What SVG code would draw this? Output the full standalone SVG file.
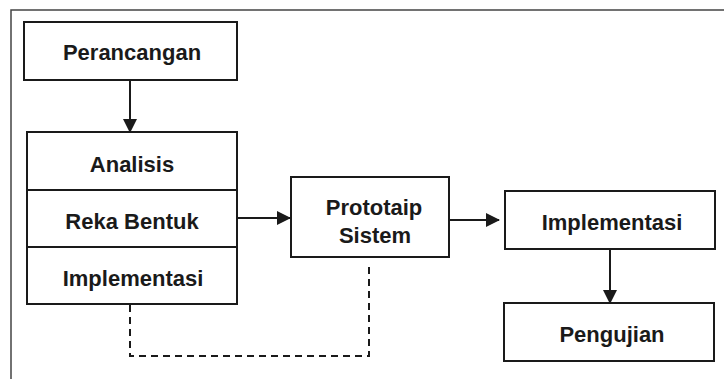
<svg xmlns="http://www.w3.org/2000/svg" width="724" height="379" viewBox="0 0 724 379">
  <style>
    .box { fill: #ffffff; stroke: #1a1a1a; stroke-width: 2; }
    .lbl { font-family: "Liberation Sans", Arial, sans-serif; font-weight: bold; font-size: 22px; fill: #1a1a1a; text-anchor: middle; }
    .conn { fill: none; stroke: #1a1a1a; stroke-width: 2; }
    .dash { fill: none; stroke: #1a1a1a; stroke-width: 2; stroke-dasharray: 7 5; }
  </style>
  <defs>
    <marker id="arrow" markerWidth="14" markerHeight="14" refX="13" refY="7" orient="auto" markerUnits="userSpaceOnUse">
      <path d="M0,0 L14,7 L0,14 Z" fill="#1a1a1a"/>
    </marker>
  </defs>
  <rect width="724" height="379" fill="#ffffff"/>
  <g id="frame">
    <path d="M11,379 L11,10 L724,10" fill="none" stroke="#444444" stroke-width="1.5"/>
  </g>
  <g id="perancangan">
    <rect class="box" x="24" y="22" width="213" height="58"/>
    <text class="lbl" x="132" y="60">Perancangan</text>
  </g>
  <g id="stack">
    <rect class="box" x="27" y="132" width="210" height="172"/>
    <line class="conn" x1="27" y1="190" x2="237" y2="190"/>
    <line class="conn" x1="27" y1="247" x2="237" y2="247"/>
    <text class="lbl" x="132" y="172">Analisis</text>
    <text class="lbl" x="132" y="229">Reka Bentuk</text>
    <text class="lbl" x="133" y="286">Implementasi</text>
  </g>
  <g id="prototaip">
    <rect class="box" x="291" y="177" width="158" height="80"/>
    <text class="lbl" x="374" y="215">Prototaip</text>
    <text class="lbl" x="375" y="243">Sistem</text>
  </g>
  <g id="implementasi">
    <rect class="box" x="505" y="191" width="210" height="58"/>
    <text class="lbl" x="612" y="230">Implementasi</text>
  </g>
  <g id="pengujian">
    <rect class="box" x="504" y="303" width="210" height="58"/>
    <text class="lbl" x="612" y="342">Pengujian</text>
  </g>
  <g id="connectors">
    <line class="conn" x1="130" y1="80" x2="130" y2="132" marker-end="url(#arrow)"/>
    <line class="conn" x1="237" y1="218" x2="290" y2="218" marker-end="url(#arrow)"/>
    <line class="conn" x1="449" y1="220" x2="499" y2="220" marker-end="url(#arrow)"/>
    <line class="conn" x1="610" y1="249" x2="610" y2="303" marker-end="url(#arrow)"/>
    <path class="dash" d="M130,305 L130,356 L369,356 L369,262"/>
  </g>
</svg>
